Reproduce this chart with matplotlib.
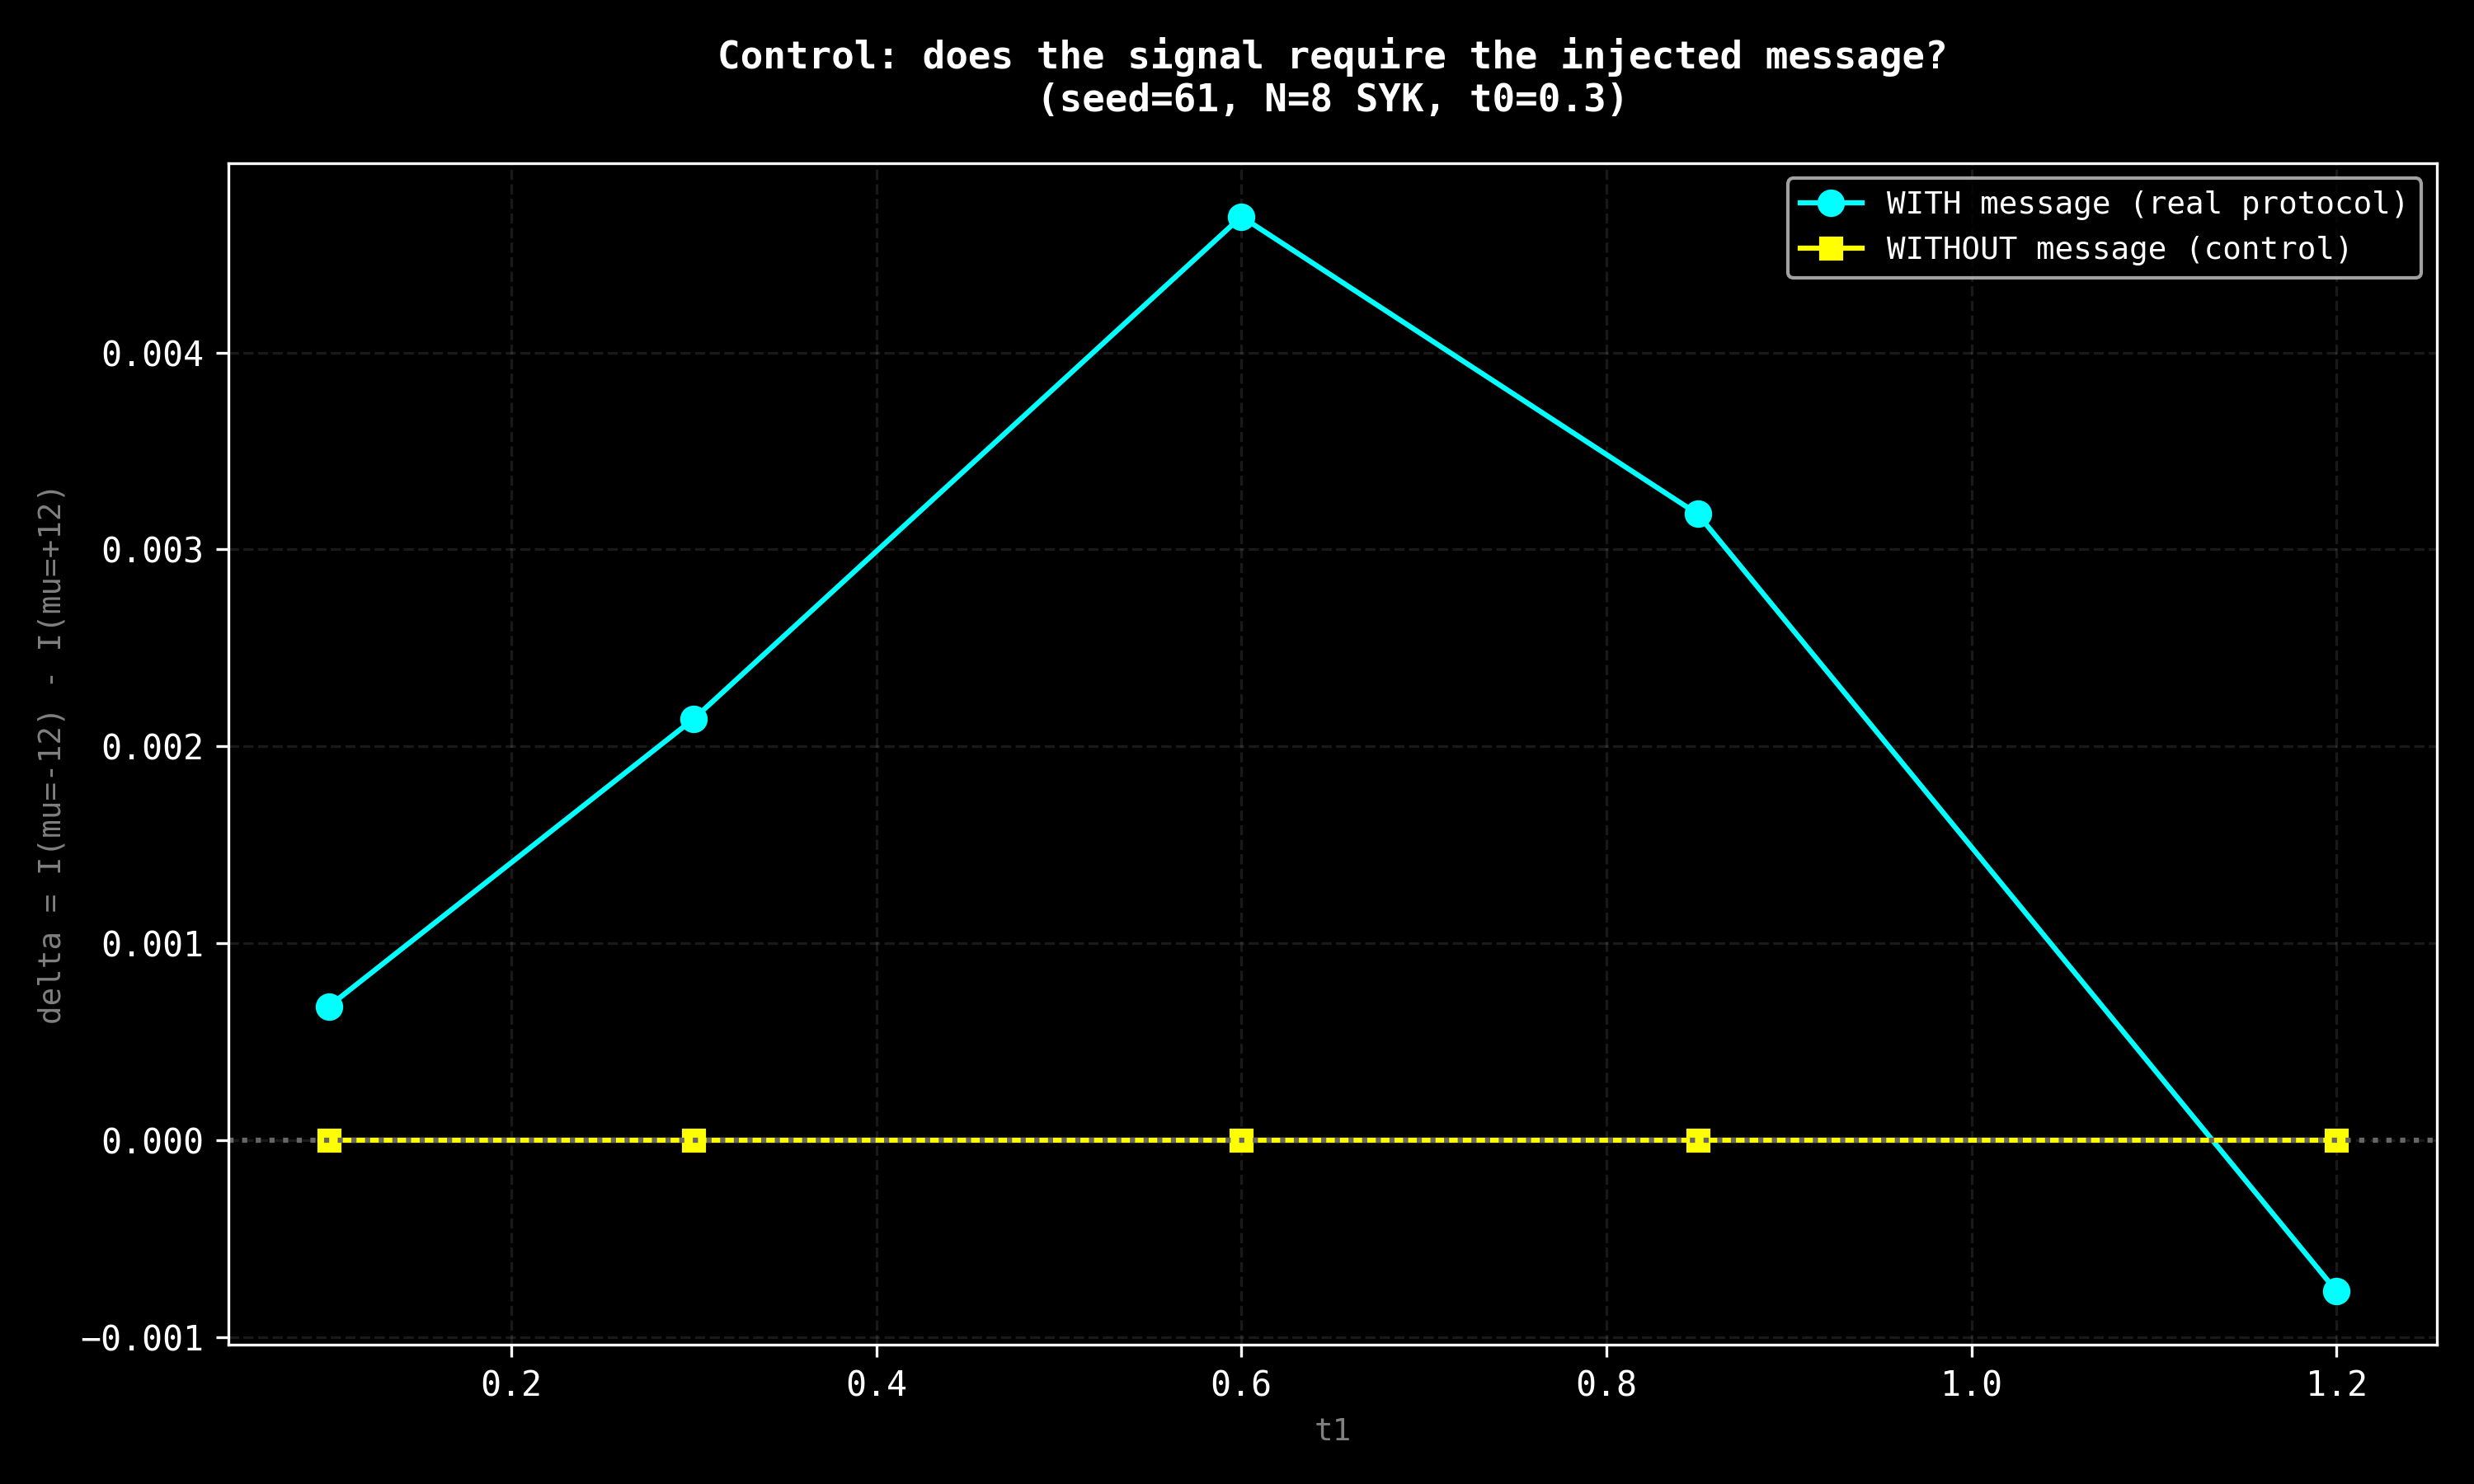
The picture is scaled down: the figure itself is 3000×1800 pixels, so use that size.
import matplotlib
matplotlib.use("Agg")
import matplotlib.pyplot as plt

plt.style.use("dark_background")
plt.rcParams["font.family"] = ["DejaVu Sans Mono", "DejaVu Sans"]

t1 = [0.1, 0.3, 0.6, 0.85, 1.2]
delta_with = [0.00068, 0.00214, 0.00469, 0.00318, -0.000765]
delta_without = [0.0, 0.0, 0.0, 0.0, 0.0]

fig, ax = plt.subplots(figsize=(10, 6), dpi=300)
ax.plot(t1, delta_with, "o-", color="cyan", lw=1.5, ms=7,
        label="WITH message (real protocol)")
ax.plot(t1, delta_without, "s-", color="yellow", lw=1.5, ms=6,
        label="WITHOUT message (control)")
ax.axhline(0, color="#666666", ls=":", lw=1.5)
ax.grid(True, ls="--", alpha=0.1)
ax.set_xlabel("t1", color="gray", fontsize=9)
ax.set_ylabel("delta = I(mu=-12) - I(mu=+12)", color="gray", fontsize=9)
ax.set_title("Control: does the signal require the injected message?\n(seed=61, N=8 SYK, t0=0.3)",
             fontweight="bold", fontsize=11, pad=15)
ax.legend(loc="upper right", fontsize=9)
fig.tight_layout()
fig.savefig("out.png", dpi=300)
